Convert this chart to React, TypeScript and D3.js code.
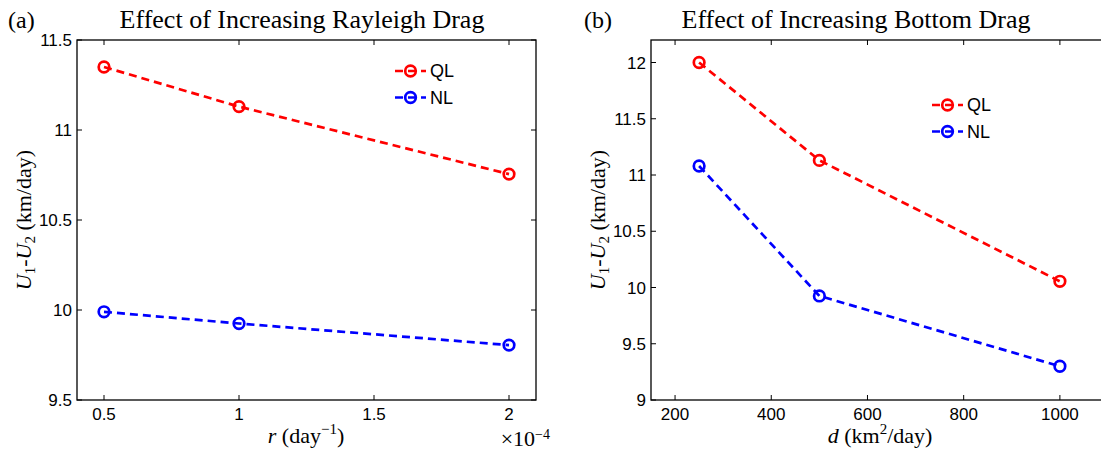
import React from 'react';
import * as d3 from 'd3';

// ---------- data ----------
const seriesNames = ['QL', 'NL'];
const seriesColors = ['#ff0000', '#0000ff'];

// panel (a): Rayleigh drag r (x 1e-4 day^-1)
const rValues = [0.5, 1, 2];
const rQL = [11.35, 11.13, 10.755];
const rNL = [9.99, 9.925, 9.805];
const rTicks = [0.5, 1, 1.5, 2];
const rTickLabels = ['0.5', '1', '1.5', '2'];
const aYTicks = [9.5, 10, 10.5, 11, 11.5];
const aYTickLabels = ['9.5', '10', '10.5', '11', '11.5'];

// panel (b): bottom drag d (km^2/day)
const dValues = [250, 500, 1000];
const dQL = [12.0, 11.13, 10.055];
const dNL = [11.08, 9.925, 9.3];
const dTicks = [200, 400, 600, 800, 1000];
const dTickLabels = ['200', '400', '600', '800', '1000'];
const bYTicks = [9, 9.5, 10, 10.5, 11, 11.5, 12];
const bYTickLabels = ['9', '9.5', '10', '10.5', '11', '11.5', '12'];

const SERIF = '"Liberation Serif", "DejaVu Serif", serif';
const SANS = '"Liberation Sans", Arial, Helvetica, sans-serif';

type PanelProps = {
  xDomain: [number, number];
  yDomain: [number, number];
  xRange: [number, number];
  yRange: [number, number];
  xVals: number[];
  series: number[][];
  xTicks: number[];
  xTickLabels: string[];
  yTicks: number[];
  yTickLabels: string[];
  legendX: number;
  legendY: number;
  clipId: string;
};

function Panel(p: PanelProps) {
  const x = d3.scaleLinear().domain(p.xDomain).range(p.xRange);
  const y = d3.scaleLinear().domain(p.yDomain).range(p.yRange);
  const [x0, x1] = p.xRange;
  const [y1, y0] = p.yRange; // y1 bottom, y0 top
  const line = d3
    .line<number>()
    .x((_, i) => x(p.xVals[i]))
    .y((v) => y(v));
  const tl = 5;
  return (
    <g>
      <defs>
        <clipPath id={p.clipId}>
          <rect x={x0 - 8} y={y0 - 8} width={x1 - x0 + 16} height={y1 - y0 + 16} />
        </clipPath>
      </defs>
      {/* data */}
      <g clipPath={`url(#${p.clipId})`}>
        {p.series.map((s, si) => (
          <g key={si}>
            <path
              d={line(s) || ''}
              fill="none"
              stroke={seriesColors[si]}
              strokeWidth={2.7}
              strokeDasharray="8,5"
            />
            {s.map((v, i) => (
              <circle
                key={i}
                cx={x(p.xVals[i])}
                cy={y(v)}
                r={5.3}
                fill="none"
                stroke={seriesColors[si]}
                strokeWidth={2.7}
              />
            ))}
          </g>
        ))}
      </g>
      {/* box */}
      <rect x={x0} y={y0} width={x1 - x0} height={y1 - y0} fill="none" stroke="#000" strokeWidth={1.3} />
      {/* x ticks */}
      {p.xTicks.map((t, i) => (
        <g key={'x' + i}>
          <line x1={x(t)} x2={x(t)} y1={y1} y2={y1 - tl} stroke="#000" strokeWidth={1} />
          <line x1={x(t)} x2={x(t)} y1={y0} y2={y0 + tl} stroke="#000" strokeWidth={1} />
          <text x={x(t)} y={y1 + 20} textAnchor="middle" fontFamily={SANS} fontSize={17} fill="#000">
            {p.xTickLabels[i]}
          </text>
        </g>
      ))}
      {/* y ticks */}
      {p.yTicks.map((t, i) => (
        <g key={'y' + i}>
          <line x1={x0} x2={x0 + tl} y1={y(t)} y2={y(t)} stroke="#000" strokeWidth={1} />
          <line x1={x1} x2={x1 - tl} y1={y(t)} y2={y(t)} stroke="#000" strokeWidth={1} />
          <text x={x0 - 5} y={y(t)} dy="0.36em" textAnchor="end" fontFamily={SANS} fontSize={17} fill="#000">
            {p.yTickLabels[i]}
          </text>
        </g>
      ))}
      {/* legend */}
      {seriesNames.map((n, si) => {
        const ly = p.legendY + si * 26.5;
        return (
          <g key={'l' + si}>
            <line
              x1={p.legendX}
              x2={p.legendX + 31}
              y1={ly}
              y2={ly}
              stroke={seriesColors[si]}
              strokeWidth={2.7}
              strokeDasharray="8,5"
            />
            <circle cx={p.legendX + 15.5} cy={ly} r={5.3} fill="none" stroke={seriesColors[si]} strokeWidth={2.7} />
            <text x={p.legendX + 35} y={ly} dy="0.36em" fontFamily={SANS} fontSize={18} fill="#000">
              {n}
            </text>
          </g>
        );
      })}
    </g>
  );
}

function YLabel({ x, y }: { x: number; y: number }) {
  return (
    <text transform={`translate(${x},${y}) rotate(-90)`} textAnchor="middle" fontFamily={SERIF} fontSize={22} fill="#000">
      <tspan fontStyle="italic">U</tspan>
      <tspan dy={4} fontSize={15}>1</tspan>
      <tspan dy={-4}>-</tspan>
      <tspan fontStyle="italic">U</tspan>
      <tspan dy={4} fontSize={15}>2</tspan>
      <tspan dy={-4}> (km/day)</tspan>
    </text>
  );
}

export default function App() {
  return (
    <svg
      width={1101}
      height={450}
      style={{ position: 'absolute', left: 0, top: 0, background: '#fff' }}
      xmlns="http://www.w3.org/2000/svg"
    >
      <rect x={0} y={0} width={1101} height={450} fill="#fff" />
      {/* panel a */}
      <Panel
        xDomain={[0.4, 2.1]}
        yDomain={[9.5, 11.5]}
        xRange={[77, 536]}
        yRange={[400, 40]}
        xVals={rValues}
        series={[rQL, rNL]}
        xTicks={rTicks}
        xTickLabels={rTickLabels}
        yTicks={aYTicks}
        yTickLabels={aYTickLabels}
        legendX={395}
        legendY={71}
        clipId="clipA"
      />
      <text x={8} y={28} fontFamily={SERIF} fontSize={24} fill="#000">(a)</text>
      <text x={302} y={28} textAnchor="middle" fontFamily={SERIF} fontSize={26} fill="#000">
        Effect of Increasing Rayleigh Drag
      </text>
      <YLabel x={31} y={220} />
      <text x={306} y={443} textAnchor="middle" fontFamily={SERIF} fontSize={22} fill="#000">
        <tspan fontStyle="italic">r</tspan>
        <tspan> (day</tspan>
        <tspan dy={-9} fontSize={15}>−1</tspan>
        <tspan dy={9}>)</tspan>
      </text>
      <text x={550} y={446} textAnchor="end" fontFamily={SERIF} fontSize={22} fill="#000">
        <tspan>×10</tspan>
        <tspan dy={-7} fontSize={14}>−4</tspan>
      </text>

      {/* panel b */}
      <Panel
        xDomain={[150, 1100]}
        yDomain={[9, 12.2]}
        xRange={[651, 1108]}
        yRange={[400, 40]}
        xVals={dValues}
        series={[dQL, dNL]}
        xTicks={dTicks}
        xTickLabels={dTickLabels}
        yTicks={bYTicks}
        yTickLabels={bYTickLabels}
        legendX={932}
        legendY={105}
        clipId="clipB"
      />
      <text x={584} y={28} fontFamily={SERIF} fontSize={24} fill="#000">(b)</text>
      <text x={856} y={28} textAnchor="middle" fontFamily={SERIF} fontSize={26} fill="#000">
        Effect of Increasing Bottom Drag
      </text>
      <YLabel x={605} y={220} />
      <text x={880} y={443} textAnchor="middle" fontFamily={SERIF} fontSize={22} fill="#000">
        <tspan fontStyle="italic">d</tspan>
        <tspan> (km</tspan>
        <tspan dy={-9} fontSize={15}>2</tspan>
        <tspan dy={9}>/day)</tspan>
      </text>
    </svg>
  );
}
